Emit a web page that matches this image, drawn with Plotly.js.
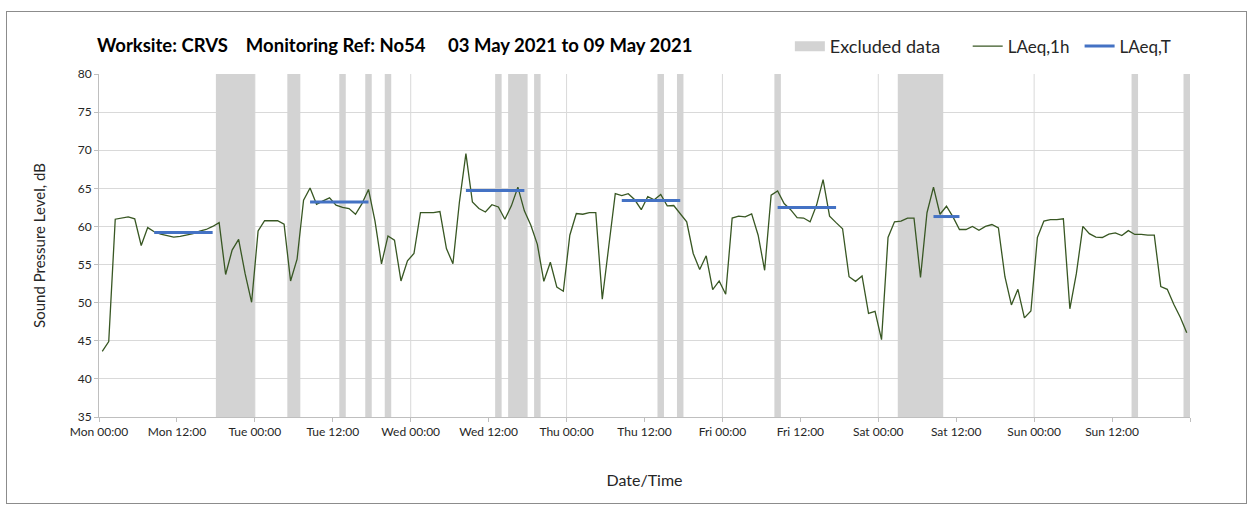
<!DOCTYPE html>
<html>
<head>
<meta charset="utf-8">
<script src="https://cdn.plot.ly/plotly-3.0.1.min.js"></script>
<style>
  html, body { margin: 0; padding: 0; background: #fff; }
  #wrap { position: relative; width: 1253px; height: 512px; }
  #chart { position: absolute; left: 0; top: 0; width: 1253px; height: 512px; }
  #frame { position: absolute; left: 6px; top: 11px; width: 1239px; height: 491px;
           border: 1px solid #8c8c8c; pointer-events: none; }
</style>
</head>
<body>
<div id="wrap"><div id="chart"></div><div id="frame"></div></div>
<script>
// Hourly LAeq,1h values (dB), Mon 00:00 to Sun 23:00, one per hour
const laeq1h = [
  // Mon
  43.6, 44.9, 60.95, 61.1, 61.25, 61.0, 57.5, 59.85, 59.3, 59.0, 58.8, 58.6,
  58.7, 58.85, 59.05, 59.4, 59.6, 60.0, 60.5, 53.7, 56.9, 58.3, 53.8, 50.05,
  // Tue
  59.4, 60.75, 60.75, 60.75, 60.3, 52.85, 55.7, 63.45, 65.05, 62.9, 63.35, 63.75,
  62.8, 62.5, 62.35, 61.6, 63.0, 64.85, 60.7, 55.1, 58.75, 58.2, 52.85, 55.5,
  // Wed
  56.45, 61.8, 61.8, 61.8, 61.95, 57.1, 55.1, 63.2, 69.55, 63.2, 62.35, 61.9,
  62.85, 62.55, 60.95, 62.7, 65.15, 62.05, 60.15, 57.65, 52.8, 55.3, 52.05, 51.5,
  // Thu
  58.85, 61.7, 61.6, 61.8, 61.8, 50.45, 57.4, 64.3, 64.05, 64.3, 63.5, 62.2,
  63.9, 63.5, 64.2, 62.7, 62.75, 61.6, 60.6, 56.45, 54.35, 56.15, 51.7, 52.85,
  // Fri
  51.1, 61.1, 61.35, 61.25, 61.65, 58.85, 54.25, 64.1, 64.65, 63.0, 62.2, 61.15,
  61.1, 60.6, 62.8, 66.15, 61.35, 60.5, 59.7, 53.4, 52.8, 53.5, 48.6, 48.85,
  // Sat
  45.15, 58.55, 60.6, 60.7, 61.1, 61.1, 53.3, 61.8, 65.15, 61.6, 62.65, 61.25,
  59.6, 59.6, 60.0, 59.5, 60.0, 60.25, 59.8, 53.4, 49.7, 51.75, 48.0, 48.9,
  // Sun
  58.55, 60.7, 60.9, 60.9, 61.0, 49.2, 53.8, 60.0, 59.05, 58.6, 58.55, 59.0,
  59.15, 58.8, 59.45, 58.95, 58.95, 58.85, 58.85, 52.1, 51.75, 49.8, 48.1, 46.05
];

// LAeq,T periods: first hour, last hour (hours since Mon 00:00), value (dB)
const laeqTFirstHour = [8, 32, 56, 80, 104, 128];
const laeqTLastHour  = [17, 41, 65, 89, 113, 132];
const laeqTValue     = [59.2, 63.2, 64.7, 63.4, 62.5, 61.3];

// Excluded data periods (hours since Mon 00:00)
const exclStart = [18, 29, 37, 41, 44, 61, 63, 67, 86, 89, 104, 123, 159, 167];
const exclEnd   = [24, 31, 38, 42, 45, 62, 66, 68, 87, 90, 105, 130, 160, 168];

// Axis tick labels (every 12 hours)
const tickHours  = [0, 12, 24, 36, 48, 60, 72, 84, 96, 108, 120, 132, 144, 156, 168];
const tickLabels = ["Mon 00:00", "Mon 12:00", "Tue 00:00", "Tue 12:00", "Wed 00:00", "Wed 12:00",
                    "Thu 00:00", "Thu 12:00", "Fri 00:00", "Fri 12:00", "Sat 00:00", "Sat 12:00",
                    "Sun 00:00", "Sun 12:00", ""];
const dayBoundaries = [24, 48, 72, 96, 120, 144];

const FONT = "Lato, 'Open Sans', sans-serif";
const GREY = 'rgb(211,211,211)';

// Build traces
const hx = laeq1h.map((_, i) => i + 0.5);

const tx = [], ty = [];
for (let k = 0; k < laeqTValue.length; k++) {
  for (let h = laeqTFirstHour[k]; h <= laeqTLastHour[k]; h++) {
    tx.push(h + 0.5); ty.push(laeqTValue[k]);
  }
  tx.push(null); ty.push(null);
}

const ex = exclStart.map((s, i) => (s + exclEnd[i]) / 2);
const ew = exclStart.map((s, i) => exclEnd[i] - s);

const traces = [
  { type: 'bar', name: 'Excluded data', x: ex, y: ex.map(() => 45), base: 35, width: ew,
    marker: { color: GREY, line: { width: 0 } }, hoverinfo: 'skip', showlegend: false },
  // legend key for the excluded-data bands (wide grey swatch)
  { type: 'scatter', mode: 'lines', name: 'Excluded data', x: [null], y: [null],
    line: { color: GREY, width: 11 }, legend: 'legend', showlegend: true },
  { type: 'scatter', mode: 'lines', name: 'LAeq,1h', x: hx, y: laeq1h,
    line: { color: 'rgb(56,87,35)', width: 1.3 }, legend: 'legend2' },
  { type: 'scatter', mode: 'lines', name: 'LAeq,T', x: tx, y: ty, connectgaps: false,
    line: { color: 'rgb(68,114,196)', width: 3 }, legend: 'legend3' }
];

const shapes = dayBoundaries.map(d => ({
  type: 'line', xref: 'x', yref: 'y', x0: d, x1: d, y0: 35, y1: 80,
  line: { color: '#d9d9d9', width: 1 }, layer: 'below'
}));

const legendBase = { orientation: 'h', xanchor: 'left', yanchor: 'middle', y: 1.08,
  font: { family: FONT, size: 17, color: '#262626' }, bgcolor: 'rgba(0,0,0,0)', borderwidth: 0 };

const NB = '\u00A0';
const titleText = 'Worksite: CRVS' + NB.repeat(4) + 'Monitoring Ref: No54' + NB.repeat(5) +
                  '03 May 2021 to 09 May 2021';

const layout = {
  width: 1253, height: 512,
  margin: { l: 98.5, r: 62.5, t: 74, b: 95, pad: 0 },
  paper_bgcolor: '#ffffff', plot_bgcolor: '#ffffff',
  showlegend: true,
  barmode: 'overlay',
  title: { text: '<b>' + titleText + '</b>', x: 97 / 1253, xanchor: 'left', y: 1 - 46 / 512, yanchor: 'middle',
           font: { family: FONT, size: 18.5, color: '#000' } },
  xaxis: {
    range: [0, 168], tickmode: 'array', tickvals: tickHours, ticktext: tickLabels,
    showgrid: false, zeroline: false, showline: true, linecolor: '#bfbfbf', linewidth: 1,
    ticks: 'outside', ticklen: 4, tickcolor: '#bfbfbf',
    tickfont: { family: FONT, size: 12, color: '#262626' },
    title: { text: 'Date/Time', font: { family: FONT, size: 16, color: '#262626' }, standoff: 36 },
    automargin: false, fixedrange: true
  },
  yaxis: {
    range: [35, 80], tickmode: 'linear', tick0: 35, dtick: 5,
    showgrid: true, gridcolor: '#d9d9d9', gridwidth: 1, zeroline: false,
    showline: true, linecolor: '#bfbfbf', linewidth: 1,
    ticks: 'outside', ticklen: 4, tickcolor: '#bfbfbf',
    tickfont: { family: FONT, size: 12, color: '#262626' },
    title: { text: 'Sound Pressure Level, dB', font: { family: FONT, size: 15, color: '#262626' }, standoff: 28 },
    automargin: false, fixedrange: true
  },
  legend:  Object.assign({}, legendBase, { x: (790 - 98.5) / 1092,
            font: { family: FONT, size: 18, color: '#262626' } }),
  legend2: Object.assign({}, legendBase, { x: (968 - 98.5) / 1092 }),
  legend3: Object.assign({}, legendBase, { x: (1080 - 98.5) / 1092 }),
  shapes: shapes
};

Plotly.newPlot('chart', traces, layout, { displayModeBar: false, staticPlot: true });
</script>
</body>
</html>
